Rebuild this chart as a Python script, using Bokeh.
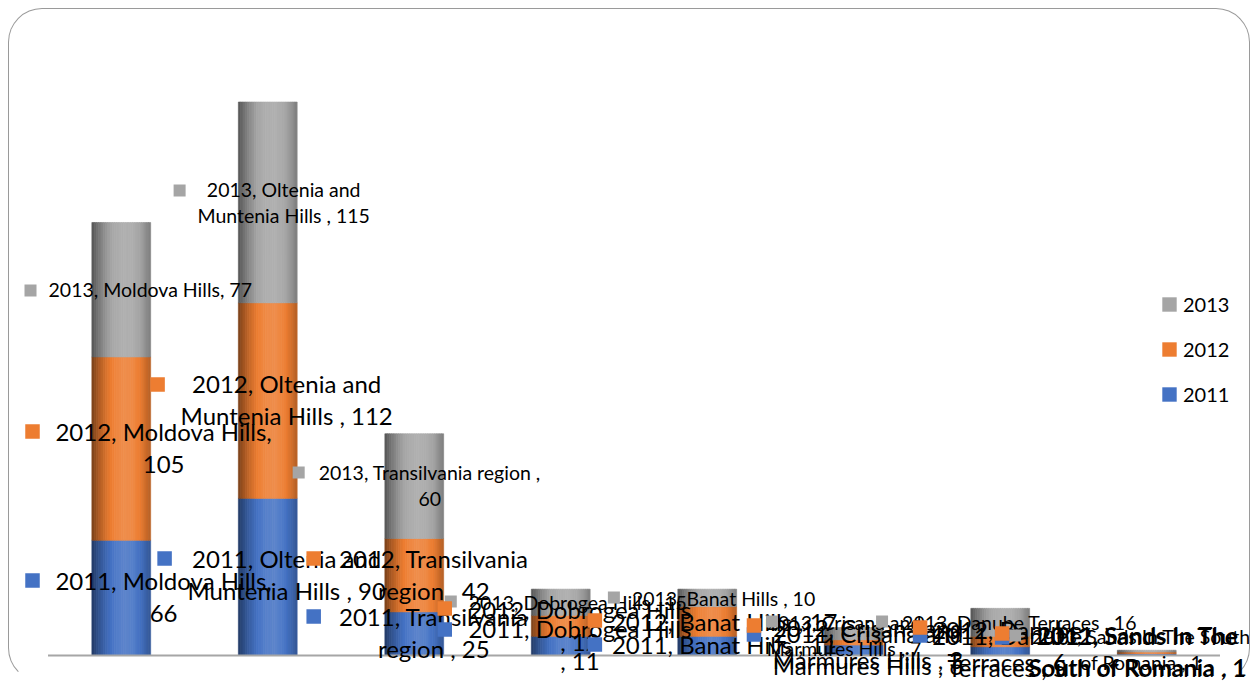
import math
from bokeh.plotting import figure
from bokeh.models import ColumnDataSource, FactorRange, Range1d, Legend, LegendItem
from bokeh.transform import dodge
from bokeh.core.properties import value
from bokeh.embed import file_html
from bokeh.resources import INLINE

# ---------------- data ----------------
CATEGORIES = ["Moldova Hills", "Oltenia and Muntenia Hills ", "Transilvania region ",
              "Dobrogea Hills ", "Banat Hills ", "Crisana and Marmures Hills ",
              "Danube Terraces ", "Sands In The South of Romania "]
YEARS = ["2011", "2012", "2013"]
V2011 = [66, 90, 25, 11, 11, 6, 5, 1]
V2012 = [105, 112, 42, 12, 17, 3, 6, 1]
V2013 = [77, 115, 60, 15, 10, 7, 16, 1]
SERIES = {"2011": V2011, "2012": V2012, "2013": V2013}
COLORS = {"2011": "#4472C4", "2012": "#ED7D31", "2013": "#A5A5A5"}

# ---------------- layout ----------------
W, H = 1242, 674
PAGE = 8
X0_PAGE = 46.5          # page x of category axis start
PX_CAT = 146.4          # px per category
BASE_PAGE = 654.0       # page y of baseline
PX_UNIT = 1.746         # px per value unit
MIN_LEFT = 7
FONT = "Lato"
BIG, SMALL = 24, 19.5
BIG_LH, SMALL_LH = 32.5, 26.0
BIG_LHF, SMALL_LHF = 1.10, 1.16   # bokeh line-height factors giving the spacings above

factors = [c.strip() for c in CATEGORIES]
frame_left_page = PAGE + MIN_LEFT
pad = (X0_PAGE - frame_left_page) / PX_CAT
x_range = FactorRange(factors=factors, range_padding=pad, range_padding_units="absolute")
y_range = Range1d(-(PAGE + H - BASE_PAGE) / PX_UNIT, (BASE_PAGE - PAGE) / PX_UNIT)

p = figure(width=W, height=H, x_range=x_range, y_range=y_range,
           x_axis_location=None, y_axis_location=None,
           toolbar_location=None, output_backend="svg",
           min_border_left=MIN_LEFT, min_border_right=0, min_border_top=0, min_border_bottom=0)
p.grid.visible = False
p.outline_line_color = None
p.background_fill_color = None
p.border_fill_color = None
p.styles = {"margin": "8px 8px 0px 8px", "border": "1.3px solid #9a9a9a",
            "border-bottom-color": "transparent",
            "border-radius": "34px", "box-sizing": "border-box"}


def px2x(px):
    return (px - X0_PAGE) / PX_CAT


def py2y(py):
    return (BASE_PAGE - py) / PX_UNIT


def hex2rgb(h):
    h = h.lstrip("#")
    return [int(h[i:i + 2], 16) for i in (0, 2, 4)]


def shade(hexcol, t):
    # cylinder-like shading: dark left edge, highlight ~60%, darker right edge
    if t <= 0.6:
        s = t / 0.6
        k = 0.5 + (1.14 - 0.5) * math.sin(s * math.pi / 2) ** 0.9
    else:
        s = (t - 0.6) / 0.4
        k = 1.14 - (1.14 - 0.76) * s ** 1.6
    r, g, b = hex2rgb(hexcol)
    if k <= 1:
        c = [v * k for v in (r, g, b)]
    else:
        c = [v + (255 - v) * (k - 1) * 0.9 for v in (r, g, b)]
    return "#%02x%02x%02x" % tuple(max(0, min(255, int(round(v)))) for v in c)


# ---------------- stacked bars ----------------
BAR_W = 0.40
NSTRIPES = 26
cum = [0] * len(CATEGORIES)
legend_renderers = {}
for yr in YEARS:
    vals = SERIES[yr]
    bottoms = list(cum)
    tops = [b + v for b, v in zip(bottoms, vals)]
    cum = tops
    src = ColumnDataSource(dict(cat=factors, bottom=bottoms, top=tops))
    sw = BAR_W / NSTRIPES
    for k in range(NSTRIPES):
        t = (k + 0.5) / NSTRIPES
        off = -BAR_W / 2 + (k + 0.5) * sw
        col = shade(COLORS[yr], t)
        p.vbar(x=dodge("cat", off, range=p.x_range), width=sw * 1.1, bottom="bottom", top="top",
               source=src, fill_color=col, line_color=col, line_width=0.6)
    # zero-height bar used only as the legend key
    legend_renderers[yr] = p.vbar(x=[factors[0]], top=[0], bottom=[0], width=0.1,
                                  fill_color=COLORS[yr], line_color=None)

# baseline (category axis line)
p.segment(x0=[0], x1=[len(CATEGORIES)], y0=[0], y1=[0], line_color="#a6a6a6", line_width=2.2)

# ---------------- data labels ----------------
# (year, category index, words on first line (0 = single line),
#  marker page x, marker page y, text page x, first-line page y, align, big font)
LABELS = [
    ("2013", 0, 0, 29, 289, 47, 289, "left", False),
    ("2013", 1, 3, 178, 189, 282, 189, "center", False),
    ("2012", 0, 3, 31, 430, 162, 432, "center", True),
    ("2012", 1, 3, 156, 383, 285, 384, "center", True),
    ("2013", 2, 4, 297, 471, 428, 472, "center", False),
    ("2011", 0, 3, 31, 579, 162, 581, "center", True),
    ("2011", 1, 3, 163, 557, 285, 559, "center", True),
    ("2012", 2, 2, 312, 557, 432, 559, "center", True),
    ("2011", 2, 2, 312, 615, 432, 617, "center", True),
    ("2013", 3, 0, 449, 600, 467, 602, "left", False),
    ("2012", 3, 3, 443, 607, 578, 610, "center", True),
    ("2011", 3, 3, 443, 628, 578, 629, "center", True),
    ("2013", 4, 0, 612, 596, 630, 598, "left", False),
    ("2012", 4, 0, 593, 619, 610, 622, "left", True),
    ("2011", 4, 0, 593, 643, 610, 645, "left", True),
    ("2013", 5, 3, 770, 620, 842, 622, "center", False),
    ("2012", 5, 3, 752, 624, 866, 628, "center", True),
    ("2011", 5, 3, 752, 633, 866, 634, "center", True),
    ("2013", 6, 0, 880, 620, 900, 622, "left", False),
    ("2012", 6, 2, 918, 626, 1005, 630, "center", True),
    ("2011", 6, 2, 918, 634, 1005, 636, "center", True),
    ("2013", 7, 5, 1013, 634, 1139, 636, "center", False),
    ("2012", 7, 4, 1000, 632, 1135, 636, "center", True),
    ("2011", 7, 4, 1000, 636, 1136, 635, "center", True),
]

for big in (False, True):
    fs = BIG if big else SMALL
    lh = BIG_LH if big else SMALL_LH
    lhf = BIG_LHF if big else SMALL_LHF
    for align in ("left", "center"):
        tx, ty, txt = [], [], []
        for (yr, ci, nw, mpx, mpy, tpx, tpy, al, bg) in LABELS:
            if bg != big or al != align:
                continue
            v = SERIES[yr][ci]
            full = f"{yr}, {CATEGORIES[ci]}, {v}"
            words = full.split(" ")
            if nw:
                full = " ".join(words[:nw]) + "\n" + " ".join(words[nw:]).strip()
            tx.append(px2x(tpx))
            ty.append(py2y(tpy - lh / 2))
            txt.append(full)
        if txt:
            p.text(x=tx, y=ty, text=txt, text_font=value(FONT), text_font_size=f"{fs}px",
                   text_align=align, text_baseline="top", text_color="#000000",
                   text_line_height=lhf)

for big in (False, True):
    sz = 14.5 if big else 12
    for yr in YEARS:
        mx = [px2x(l[3]) for l in LABELS if l[0] == yr and l[8] == big]
        my = [py2y(l[4]) for l in LABELS if l[0] == yr and l[8] == big]
        if mx:
            p.scatter(x=mx, y=my, marker="square", size=sz, fill_color=COLORS[yr], line_color=None)

# ---------------- legend ----------------
legend = Legend(items=[LegendItem(label=yr, renderers=[legend_renderers[yr]]) for yr in reversed(YEARS)],
                location=(1144, 277), orientation="vertical",
                glyph_width=18, glyph_height=18, label_standoff=5, spacing=21,
                padding=0, margin=0, border_line_color=None, background_fill_alpha=0,
                label_text_font=FONT, label_text_font_size="20px", label_text_color="#000000")
p.add_layout(legend, "center")

open("out.html", "w").write(file_html(p, INLINE))
